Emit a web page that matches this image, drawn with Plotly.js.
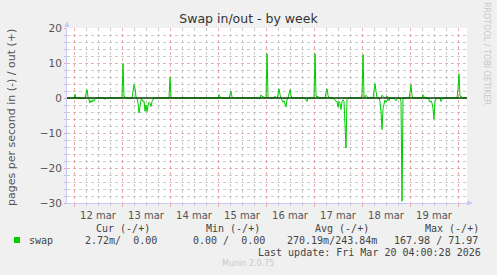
<!DOCTYPE html>
<html>
<head>
<meta charset="utf-8">
<script src="https://cdn.plot.ly/plotly-3.0.1.min.js"></script>
<style>html,body{margin:0;padding:0;background:#f0f0f0;}#chart{width:497px;height:275px;}</style>
</head>
<body>
<div id="chart"></div>
<script>
// ---- data ----
const outTimes = [
'2026-03-11 20:30','2026-03-12 00:00','2026-03-12 00:30','2026-03-12 01:00',
'2026-03-12 05:30','2026-03-12 06:00','2026-03-12 06:30','2026-03-12 07:00','2026-03-12 07:30',
'2026-03-12 23:30','2026-03-13 00:00','2026-03-13 00:30','2026-03-13 01:00','2026-03-13 01:30','2026-03-13 02:00',
'2026-03-13 05:00','2026-03-13 05:30','2026-03-13 06:00','2026-03-13 06:30','2026-03-13 07:00','2026-03-13 07:30',
'2026-03-13 23:30','2026-03-14 00:00','2026-03-14 00:30','2026-03-14 01:00',
'2026-03-14 06:00','2026-03-14 06:30','2026-03-14 07:00',
'2026-03-15 00:00','2026-03-15 00:30','2026-03-15 01:00','2026-03-15 01:30',
'2026-03-15 05:30','2026-03-15 06:00','2026-03-15 06:30','2026-03-15 07:00','2026-03-15 07:30',
'2026-03-15 21:00','2026-03-15 21:30','2026-03-15 22:00','2026-03-15 22:30','2026-03-15 23:00',
'2026-03-15 23:30','2026-03-16 00:00','2026-03-16 00:30','2026-03-16 01:00','2026-03-16 01:30',
'2026-03-16 04:00','2026-03-16 04:30','2026-03-16 05:00',
'2026-03-16 05:30','2026-03-16 06:00','2026-03-16 06:30','2026-03-16 07:00','2026-03-16 07:30',
'2026-03-16 11:00','2026-03-16 11:30','2026-03-16 12:00','2026-03-16 12:30','2026-03-16 13:00',
'2026-03-16 23:30','2026-03-17 00:00','2026-03-17 00:30','2026-03-17 01:00','2026-03-17 01:30','2026-03-17 02:00','2026-03-17 02:30',
'2026-03-17 05:30','2026-03-17 06:00','2026-03-17 06:30','2026-03-17 07:00','2026-03-17 07:30',
'2026-03-17 23:30','2026-03-18 00:00','2026-03-18 00:30','2026-03-18 01:00','2026-03-18 01:30','2026-03-18 02:00','2026-03-18 02:30','2026-03-18 03:00',
'2026-03-18 05:30','2026-03-18 06:00','2026-03-18 06:30','2026-03-18 07:00','2026-03-18 07:30',
'2026-03-18 09:30','2026-03-18 10:00','2026-03-18 10:30','2026-03-18 11:00',
'2026-03-18 12:00','2026-03-18 12:30','2026-03-18 13:00',
'2026-03-18 23:30','2026-03-19 00:00','2026-03-19 00:30','2026-03-19 01:00','2026-03-19 01:30',
'2026-03-19 06:00','2026-03-19 06:30','2026-03-19 07:00','2026-03-19 07:30',
'2026-03-19 23:30','2026-03-20 00:00','2026-03-20 00:30','2026-03-20 01:00','2026-03-20 01:30','2026-03-20 02:00','2026-03-20 02:30',
'2026-03-20 04:30'
];
const outValues = [
0,0,1.0,0,
0,1.2,2.4,0.4,0,
0,0.4,9.8,0.4,0.4,0,
0,1.5,3.8,2.8,0.3,0,
0,5.9,0.4,0,
0,0.3,0,
0,0.9,0.3,0,
0,0.9,1.9,0.4,0,
0,0.9,0.4,0.5,0,
0,0.3,12.7,0.3,0,
0,0.5,0,
0,1.0,2.6,1.0,0,
0,1.2,2.4,0.8,0,
0,0.3,12.7,0.5,0.4,0.5,0,
0,1.5,2.6,0.8,0,
0,1.0,12.4,0.3,0.3,0.8,0.5,0,
0,1.5,4.1,2.0,0,
0,0.8,0.4,0,
0,0.6,0,
0,1.5,3.8,0.8,0,
0,0.9,0.3,0,
0,2.5,6.9,0.5,0.5,0.3,0,
0
];
const inTimes = [
'2026-03-11 20:30',
'2026-03-12 07:00','2026-03-12 07:30','2026-03-12 08:00','2026-03-12 08:30','2026-03-12 09:00','2026-03-12 09:30','2026-03-12 10:00','2026-03-12 10:30','2026-03-12 11:00',
'2026-03-12 15:00','2026-03-12 15:30','2026-03-12 16:00',
'2026-03-13 07:30','2026-03-13 08:00','2026-03-13 08:30','2026-03-13 09:00','2026-03-13 09:30','2026-03-13 10:00','2026-03-13 10:30','2026-03-13 11:00',
'2026-03-13 11:30','2026-03-13 12:00','2026-03-13 12:30','2026-03-13 13:00','2026-03-13 13:30','2026-03-13 14:00','2026-03-13 14:30','2026-03-13 15:00','2026-03-13 15:30','2026-03-13 16:00',
'2026-03-16 07:30','2026-03-16 08:00','2026-03-16 08:30','2026-03-16 09:00','2026-03-16 09:30','2026-03-16 10:00','2026-03-16 10:30','2026-03-16 11:00',
'2026-03-16 19:30','2026-03-16 20:00','2026-03-16 20:30','2026-03-16 21:00',
'2026-03-17 09:30','2026-03-17 10:00','2026-03-17 10:30','2026-03-17 11:00','2026-03-17 11:30','2026-03-17 12:00','2026-03-17 12:30','2026-03-17 13:00',
'2026-03-17 13:30','2026-03-17 14:00','2026-03-17 14:30','2026-03-17 15:00','2026-03-17 15:30','2026-03-17 16:00','2026-03-17 16:30','2026-03-17 17:00',
'2026-03-18 08:30','2026-03-18 09:00','2026-03-18 09:30','2026-03-18 10:00','2026-03-18 10:30','2026-03-18 11:00','2026-03-18 11:30','2026-03-18 12:00',
'2026-03-18 12:30','2026-03-18 13:00','2026-03-18 13:30','2026-03-18 14:00',
'2026-03-18 16:00','2026-03-18 16:30','2026-03-18 17:00','2026-03-18 17:30','2026-03-18 18:00',
'2026-03-18 19:00','2026-03-18 19:30','2026-03-18 20:00','2026-03-18 20:30',
'2026-03-19 09:00','2026-03-19 09:30','2026-03-19 10:00','2026-03-19 10:30','2026-03-19 11:00','2026-03-19 11:30','2026-03-19 12:00','2026-03-19 12:30','2026-03-19 13:00',
'2026-03-19 15:00','2026-03-19 15:30','2026-03-19 16:00','2026-03-19 16:30',
'2026-03-20 04:30'
];
const inValues = [
0,
0,-0.5,-1.4,-0.7,-1.2,-0.5,-0.9,-0.3,0,
0,-0.4,0,
0,-1.5,-4.3,-2.5,-0.5,-0.4,-1.0,-0.8,
-3.8,-2.0,-3.9,-2.2,-1.2,-1.5,-2.4,-1.0,-0.5,0,
0,-0.5,-1.2,-0.8,-1.8,-2.6,-0.5,0,
0,-0.5,-1.0,0,
0,-0.3,-0.5,-1.0,-1.0,-2.6,-1.0,-1.5,
-3.3,-1.0,-0.5,-1.0,-7.0,-14.3,-0.3,0,
0,-1.0,-4.0,-9.0,-3.0,-1.5,-0.6,-1.2,
-0.5,-0.3,-0.8,0,
0,-0.5,-0.8,-0.3,0,
0,-1.0,-29.5,0,
0,-0.5,-1.2,-0.8,-1.5,-3.0,-6.0,-1.0,0,
0,-1.0,-0.3,0,
0
];
const shortMonths = ['jan','feb','mar','apr','may','jun','jul','aug','sep','oct','nov','dec'];
const legendHeaders = ['Cur (-/+)','Min (-/+)','Avg (-/+)','Max (-/+)'];
const legendValues = ['2.72m/  0.00','0.00 /  0.00','270.19m/243.84m','167.98 / 71.97'];
const seriesName = 'swap';
const lastUpdate = 'Last update: Fri Mar 20 04:00:28 2026';

Plotly.register({moduleType:'locale', name:'munin', dictionary:{}, format:{
  days:['Sunday','Monday','Tuesday','Wednesday','Thursday','Friday','Saturday'],
  shortDays:['Sun','Mon','Tue','Wed','Thu','Fri','Sat'],
  months:['January','February','March','April','May','June','July','August','September','October','November','December'],
  shortMonths: shortMonths, date:'%d/%m/%Y'}});

const W = 497, H = 275;
const px = x => x / W, py = y => 1 - y / H;
const X0 = 67, X1 = 467, Y0 = 28, Y1 = 203;

const green = '#00cc00';
const majorGrid = 'rgba(225,120,120,0.6)';
const minorGrid = 'rgba(185,185,185,0.75)';
const axisCol = '#c8c8f8';
const mono = 'DejaVu Sans Mono';
const txt = '#444';

const traces = [
  {x: inTimes, y: inValues, type:'scatter', mode:'lines', line:{color:green, width:1}, hoverinfo:'skip', showlegend:false},
  {x: outTimes, y: outValues, type:'scatter', mode:'lines', line:{color:green, width:1}, hoverinfo:'skip', showlegend:false}
];

const ann = [];
ann.push({xref:'paper', yref:'paper', x:px(11), y:py(118), text:'pages per second in (-) / out (+)', textangle:-90,
  showarrow:false, font:{family:'DejaVu Sans', size:11, color:'#555'}, xanchor:'center', yanchor:'middle'});
ann.push({xref:'paper', yref:'paper', x:px(487), y:py(53), text:'RRDTOOL / TOBI OETIKER', textangle:90,
  showarrow:false, font:{family:'DejaVu Sans', size:8, color:'#c8c8c8'}, xanchor:'center', yanchor:'middle'});
const hdrX = [94, 204, 313, 423];
legendHeaders.forEach((t,i) => ann.push({xref:'paper', yref:'paper', x:px(hdrX[i]), y:py(228), text:t, showarrow:false,
  xanchor:'left', yanchor:'middle', font:{family:mono, size:10, color:txt}}));
ann.push({xref:'paper', yref:'paper', x:px(26.5), y:py(240), text:seriesName, showarrow:false, xanchor:'left', yanchor:'middle',
  font:{family:mono, size:10, color:txt}});
const valX = [83, 190.5, 285, 392];
legendValues.forEach((t,i) => ann.push({xref:'paper', yref:'paper', x:px(valX[i]), y:py(240), text:t.replace(/ /g,'&nbsp;'), showarrow:false,
  xanchor:'left', yanchor:'middle', font:{family:mono, size:10, color:txt}}));
ann.push({xref:'paper', yref:'paper', x:px(483), y:py(252), text:lastUpdate.replace(/ /g,'&nbsp;'), showarrow:false, xanchor:'right', yanchor:'middle',
  font:{family:mono, size:10, color:txt}});
ann.push({xref:'paper', yref:'paper', x:px(248), y:py(263), text:'Munin 2.0.75', showarrow:false, xanchor:'center', yanchor:'middle',
  font:{family:'DejaVu Sans', size:8, color:'#c8c8c8'}});

const shapes = [
  {type:'line', xref:'paper', yref:'y', x0:px(X0), x1:px(X1), y0:0, y1:0, line:{color:'#000', width:1}, layer:'above'},
  {type:'rect', xref:'paper', yref:'paper', x0:px(14), x1:px(20), y0:py(243), y1:py(237), fillcolor:green, line:{width:0}},
  {type:'path', xref:'paper', yref:'paper', path:`M ${px(64.5)} ${py(27)} L ${px(69.5)} ${py(27)} L ${px(67)} ${py(21)} Z`, fillcolor:axisCol, line:{width:0}},
  {type:'path', xref:'paper', yref:'paper', path:`M ${px(467)} ${py(200.5)} L ${px(467)} ${py(205.5)} L ${px(473)} ${py(203)} Z`, fillcolor:axisCol, line:{width:0}}
];

const layout = {
  width: W, height: H,
  margin:{l:0, r:0, t:0, b:0, pad:0},
  paper_bgcolor:'#f0f0f0', plot_bgcolor:'#ffffff',
  title:{text:'Swap in/out - by week', x:0.5, xanchor:'center', xref:'paper', y:py(19), yanchor:'middle', yref:'container',
    font:{family:'DejaVu Sans', size:12.5, color:'#333'}},
  showlegend:false,
  xaxis:{type:'date', domain:[px(X0), px(X1)], range:['2026-03-11 20:30','2026-03-20 04:30'],
    tickmode:'linear', tick0:'2026-03-12', dtick:86400000, ticklabelmode:'period', tickformat:'%-d %b',
    showgrid:true, gridcolor:majorGrid, griddash:'dot', gridwidth:1,
    ticks:'outside', ticklen:3, tickcolor:majorGrid,
    minor:{dtick:21600000, tick0:'2026-03-12', showgrid:true, gridcolor:minorGrid, griddash:'dot', gridwidth:1, ticks:'outside', ticklen:2, tickcolor:minorGrid},
    showline:true, linecolor:axisCol, linewidth:1, zeroline:false,
    tickfont:{family:'DejaVu Sans', size:10, color:'#555'}, fixedrange:true},
  yaxis:{domain:[py(Y1), py(Y0)], range:[-30,20], tickmode:'linear', tick0:0, dtick:10,
    showgrid:true, gridcolor:majorGrid, griddash:'dot', gridwidth:1,
    ticks:'outside', ticklen:2, tickcolor:majorGrid,
    minor:{dtick:2, tick0:0, showgrid:true, gridcolor:minorGrid, griddash:'dot', gridwidth:1, ticks:'outside', ticklen:2, tickcolor:minorGrid},
    showline:true, linecolor:axisCol, linewidth:1, zeroline:false,
    tickfont:{family:'DejaVu Sans', size:10.5, color:'#555'}, fixedrange:true},
  annotations: ann,
  shapes: shapes
};

Plotly.newPlot('chart', traces, layout, {staticPlot:true, displayModeBar:false, locale:'munin'});
</script>
</body>
</html>
